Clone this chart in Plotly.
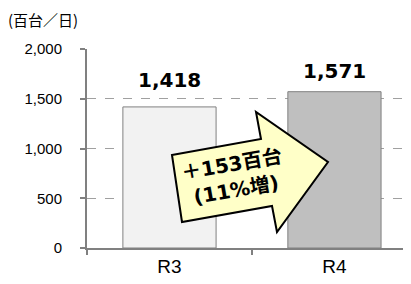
import plotly.graph_objects as go

categories = ["R3", "R4"]
values = [1418, 1571]
value_labels = ["1,418", "1,571"]
y_ticks = [0, 500, 1000, 1500, 2000]
y_tick_labels = ["0", "500", "1,000", "1,500", "2,000"]
unit_label = "(百台／日)"
arrow_text = "＋153百台<br>(11%増)"

bar_colors = ["#F2F2F2", "#BFBFBF"]
label_shift = [27, 21]

OFF = 8  # page body margin
W, H = 411 - OFF, 284 - OFF
L, T = 87 - OFF, 49 - OFF
R, B = 0, H - (248 - OFF)
pw, ph = W - L - R, H - T - B


def px(x, y):
    """screen pixel -> paper coordinate"""
    x, y = x - OFF, y - OFF
    return (x - L) / pw, (H - B - y) / ph


fig = go.Figure()
fig.add_trace(go.Bar(
    x=categories, y=values, width=0.565,
    marker=dict(color=bar_colors, line=dict(color="#808080", width=1)),
    hoverinfo="skip",
))

annotations = []
for c, v, t, s in zip(categories, values, value_labels, label_shift):
    annotations.append(dict(
        x=c, y=v, xref="x", yref="y", text=t, showarrow=False, yshift=s,
        font=dict(family="DejaVu Sans", size=20, color="black", weight="bold"),
    ))

tx, ty = px(6, 20)
annotations.append(dict(
    x=tx, y=ty, xref="paper", yref="paper", xanchor="left", yanchor="middle",
    text=unit_label, showarrow=False,
    font=dict(family="Noto Sans CJK JP", size=15, color="black"),
))

ax, ay = px(234, 177)
annotations.append(dict(
    x=ax, y=ay, xref="paper", yref="paper", text=arrow_text, showarrow=False,
    textangle=-10,
    font=dict(family="DejaVu Sans, Noto Sans CJK JP", size=20, color="black", weight="bold"),
))

arrow_px = [(172, 155), (261, 139), (256, 112), (328, 162), (277, 232), (272, 206), (182, 222)]
pts = [px(x, y) for x, y in arrow_px]
path = "M " + " L ".join(f"{x:.4f},{y:.4f}" for x, y in pts) + " Z"

fig.update_layout(
    width=W, height=H,
    margin=dict(l=L, r=R, t=T, b=B, pad=0),
    paper_bgcolor="white", plot_bgcolor="white",
    showlegend=False,
    annotations=annotations,
    shapes=[dict(type="path", path=path, xref="paper", yref="paper",
                 fillcolor="#FFFFC8", line=dict(color="black", width=2), layer="above")],
    xaxis=dict(
        type="category", range=[-0.5, 1.464], tickson="boundaries",
        ticks="outside", ticklen=5, tickcolor="#808080", tickwidth=2,
        showline=True, linecolor="#808080", linewidth=2, showgrid=False,
        tickfont=dict(family="Liberation Sans, Arial", size=19, color="black"),
        fixedrange=True,
    ),
    yaxis=dict(
        range=[0, 2000], tickvals=y_ticks, ticktext=y_tick_labels,
        ticks="outside", ticklen=5, tickcolor="#808080", tickwidth=2,
        showline=True, linecolor="#808080", linewidth=2,
        showgrid=True, gridcolor="#A0A0A0", gridwidth=1, griddash="dash",
        zeroline=False, ticklabelstandoff=15,
        tickfont=dict(family="Liberation Sans, Arial", size=15, color="black"),
        fixedrange=True,
    ),
)

fig.write_html("out.html", config={"displayModeBar": False})
